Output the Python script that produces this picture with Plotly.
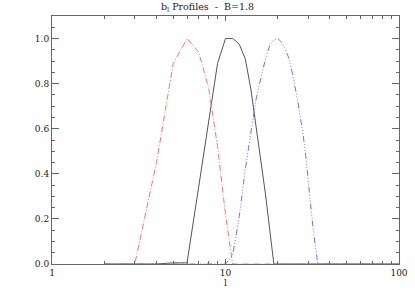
import plotly.graph_objects as go

# Multipole l sample points and profile values
red_l = [2, 3, 4, 5, 6, 7, 8, 9, 10, 11, 100]
red_v = [0.0, 0.0, 0.45, 0.89, 1.0, 0.94, 0.78, 0.52, 0.22, 0.0, 0.0]

black_l = [2, 4, 5, 6, 7, 8, 9, 10, 11, 12, 13, 14, 15, 16, 17, 18, 19, 100]
black_v = [0.0, 0.0, 0.005, 0.005, 0.34, 0.64, 0.89, 1.0, 1.0, 0.975, 0.91,
           0.776, 0.618, 0.46, 0.31, 0.15, 0.0, 0.0]

blue_l = [2, 10, 11, 12, 13, 14, 15, 16, 17, 18, 19, 20, 21, 22, 23, 24, 25,
          26, 27, 28, 29, 30, 31, 32, 33, 34, 100]
blue_v = [0.0, 0.0, 0.04, 0.21, 0.42, 0.59, 0.73, 0.825, 0.91, 0.97, 0.995,
          1.0, 0.985, 0.955, 0.92, 0.865, 0.80, 0.73, 0.65, 0.575, 0.48, 0.38,
          0.257, 0.157, 0.065, 0.0, 0.0]

title_text = "b<sub>l</sub> Profiles\u00a0\u00a0-\u00a0\u00a0B=1.8"
x_title = "l"
x_ticks = [1, 10, 100]
x_ticklabels = ["1", "10", "100"]
y_ticks = [0.0, 0.2, 0.4, 0.6, 0.8, 1.0]
y_ticklabels = ["0.0", "0.2", "0.4", "0.6", "0.8", "1.0"]

FONT = "DejaVu Serif"
AX = "#666666"

fig = go.Figure()
fig.add_trace(go.Scatter(x=black_l, y=black_v, mode="lines",
                         line=dict(color="#555555", width=1)))
fig.add_trace(go.Scatter(x=red_l, y=red_v, mode="lines",
                         line=dict(color="#ff7070", width=1, dash="6px,2px,1px,2px")))
fig.add_trace(go.Scatter(x=blue_l, y=blue_v, mode="lines",
                         line=dict(color="#7070ff", width=1,
                                   dash="6px,2px,1px,2px,1px,2px,1px,2px")))

fig.update_layout(
    width=415, height=297,
    autosize=False,
    margin=dict(l=52, r=16, t=16, b=33, pad=0),
    paper_bgcolor="white", plot_bgcolor="white",
    showlegend=False,
    font=dict(family=FONT, size=9, color="#222222"),
    title=dict(text=title_text, x=0.5, xanchor="center", y=1 - 3 / 297,
               yanchor="top", automargin=False,
               font=dict(family=FONT, size=9.5, color="#222222")),
    xaxis=dict(type="log", range=[0, 2], tickvals=x_ticks, ticktext=x_ticklabels,
               automargin=False,
               ticks="inside", ticklen=5, tickcolor=AX, mirror="ticks",
               showline=True, linecolor=AX, linewidth=1, showgrid=False,
               zeroline=False, tickfont=dict(family=FONT, size=9),
               minor=dict(ticks="inside", ticklen=3, tickcolor=AX, dtick="D1",
                          showgrid=False),
               title=dict(text=x_title, standoff=2,
                          font=dict(family=FONT, size=9))),
    yaxis=dict(range=[0, 1.1], tickvals=y_ticks, ticktext=y_ticklabels,
               automargin=False,
               ticks="inside", ticklen=7, tickcolor=AX, mirror="ticks",
               showline=True, linecolor=AX, linewidth=1, showgrid=False,
               zeroline=False, tickfont=dict(family=FONT, size=9),
               minor=dict(ticks="inside", ticklen=3, tickcolor=AX, dtick=0.05,
                          showgrid=False)),
)

fig.write_html("out.html",
               config={"displayModeBar": False},
               post_script="document.body.style.margin='0';"
                           "document.body.style.overflow='hidden';")
